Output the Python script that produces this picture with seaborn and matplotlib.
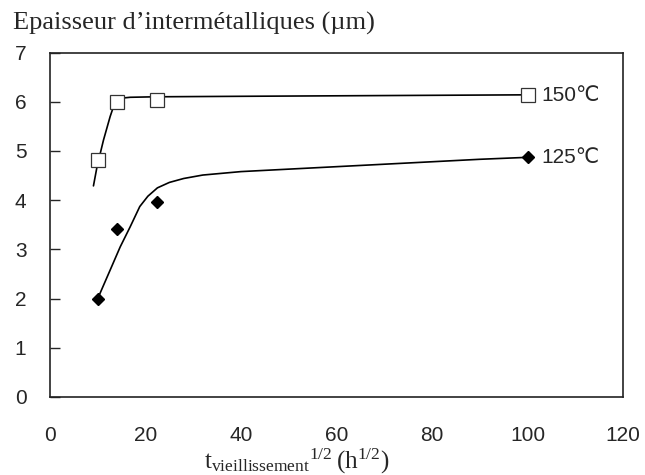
import numpy as np
import pandas as pd
import matplotlib
matplotlib.use('Agg')
import matplotlib.pyplot as plt
import seaborn as sns

# Points mesures (t^1/2 en h^1/2, epaisseur en um)
x_pts = [10, 14.1, 22.4, 100]
y_150 = [4.82, 6.0, 6.04, 6.13]
y_125 = [2.0, 3.41, 3.97, 4.87]

# Courbes de tendance
x_fit_150 = [9.1, 9.85, 11.2, 12.6, 13.4, 14.0, 14.7, 16.8, 22.0, 40, 60, 80, 100]
y_fit_150 = [4.29, 4.68, 5.22, 5.70, 5.93, 6.01, 6.07, 6.09, 6.10, 6.11, 6.12, 6.13, 6.14]
x_fit_125 = [10, 12.6, 14.7, 16.8, 18.8, 20.5, 22.5, 25, 28, 32, 40, 50, 60, 70, 80, 90, 100]
y_fit_125 = [2.0, 2.58, 3.05, 3.46, 3.87, 4.08, 4.25, 4.36, 4.44, 4.51, 4.58, 4.63, 4.68, 4.73, 4.78, 4.83, 4.87]

series_labels = ['150\u2103', '125\u2103']
x_ticks = [0, 20, 40, 60, 80, 100, 120]
y_ticks = [0, 1, 2, 3, 4, 5, 6, 7]

sns.set_style('white')
plt.rcParams['font.family'] = ['Liberation Sans', 'DejaVu Sans']

fig = plt.figure(figsize=(6.45, 4.75), dpi=100)
ax = fig.add_axes([50/645, 78/475, 573/645, 344.5/475])

sns.lineplot(x=x_fit_150, y=y_fit_150, ax=ax, color='black', lw=1.2, sort=False)
sns.lineplot(x=x_fit_125, y=y_fit_125, ax=ax, color='black', lw=1.2, sort=False)
ax.plot(x_pts, y_150, ls='none', marker='s', ms=9.5, mfc='white', mec='#333333', mew=0.9)
ax.plot(x_pts, y_125, ls='none', marker='D', ms=6.5, mfc='black', mec='black')

ax.text(103, y_150[-1], series_labels[0], fontsize=15, va='center', ha='left',
        family=['Liberation Sans', 'DejaVu Sans'])
ax.text(103, y_125[-1], series_labels[1], fontsize=15, va='center', ha='left',
        family=['Liberation Sans', 'DejaVu Sans'])

ax.set_xlim(0, 120)
ax.set_ylim(0, 7)
ax.set_xticks(x_ticks)
ax.set_yticks(y_ticks)
ax.tick_params(axis='x', length=0, pad=21, labelsize=15)
ax.tick_params(axis='y', direction='in', length=7, width=1, pad=17, labelsize=15, left=True)
for s in ax.spines.values():
    s.set_color('#222222')
    s.set_linewidth(1.2)

ax.set_xlabel(r'$\mathregular{t_{vieillissement}{}^{1/2}\,(h^{1/2})}$',
              fontsize=18, family='Liberation Serif')
ax.xaxis.set_label_coords((297 - 50) / 573, -0.145)
ax.set_ylabel('')
fig.text(13/645, 1 - 23/475, "Epaisseur d\u2019interm\u00e9talliques (\u00b5m)", family='Liberation Serif',
         fontsize=19, va='center', ha='left')

fig.savefig('out.png', dpi=100)
